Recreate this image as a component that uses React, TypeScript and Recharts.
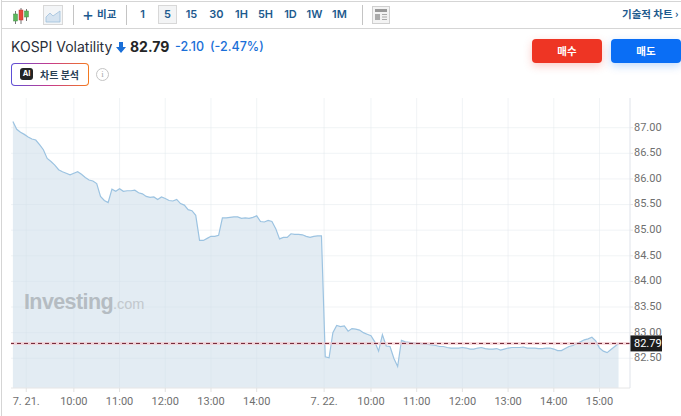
import { Area, AreaChart, CartesianGrid, ReferenceLine, XAxis, YAxis } from "recharts";

// one value per 5 minute bar
const day1Values = [
  87.12, 86.97, 86.91, 86.87, 86.82, 86.78, 86.76, 86.67, 86.57, 86.4, 86.34, 86.27, 86.18, 86.14, 86.11, 86.08,
  86.11, 86.14, 86.09, 86.03, 85.98, 85.96, 85.91, 85.66, 85.58, 85.54, 85.8, 85.76, 85.81, 85.76, 85.77, 85.77,
  85.78, 85.73, 85.71, 85.66, 85.64, 85.65, 85.6, 85.65, 85.62, 85.58, 85.57, 85.6, 85.52, 85.49, 85.4, 85.38,
  85.29, 84.8, 84.8, 84.84, 84.88, 84.88, 84.9, 85.24, 85.24, 85.25, 85.26, 85.26, 85.23, 85.24, 85.23, 85.25,
  85.28, 85.17, 85.16, 85.19, 85.17, 85.03, 84.83, 84.86, 84.86, 84.93, 84.92, 84.92, 84.91, 84.88, 84.86, 84.88,
  84.89, 84.89,
];
const day2Values = [
  82.53, 82.51, 83.0, 83.14, 83.12, 83.13, 83.03, 83.08, 83.07, 83.05, 83.0, 82.97, 82.94, 82.82, 82.64, 82.96,
  82.74, 82.73, 82.5, 82.34, 82.85, 82.82, 82.81, 82.8, 82.79, 82.79, 82.77, 82.77, 82.76, 82.75, 82.73, 82.73,
  82.71, 82.7, 82.7, 82.7, 82.71, 82.7, 82.68, 82.68, 82.7, 82.71, 82.69, 82.68, 82.68, 82.69, 82.66, 82.68,
  82.7, 82.71, 82.71, 82.71, 82.72, 82.7, 82.7, 82.7, 82.69, 82.69, 82.7, 82.7, 82.68, 82.65, 82.65, 82.69,
  82.73, 82.75, 82.79, 82.82, 82.86, 82.88, 82.91, 82.84, 82.7, 82.64, 82.61, 82.67, 82.73, 82.79,
];
const xTicks = [3.5, 16, 28, 40, 52, 64, 81.7, 94, 106, 118, 130, 142, 154];
const xTickLabels = ["7. 21.", "10:00", "11:00", "12:00", "13:00", "14:00", "7. 22.", "10:00", "11:00", "12:00", "13:00", "14:00", "15:00"];
const yTicks = [82.5, 83, 83.5, 84, 84.5, 85, 85.5, 86, 86.5, 87];
const intervals = ["1", "5", "15", "30", "1H", "5H", "1D", "1W", "1M"];
const lastPrice = 82.79;

const chartData = [...day1Values, ...day2Values].map((value, bar) => ({ bar, value }));

const korean = '"Noto Sans CJK KR", Inter, sans-serif';

function CandleIcon() {
  return (
    <svg width="18" height="18" viewBox="0 0 18 18" style={{ position: "absolute", left: 11, top: 5 }}>
      <path d="M3.5 4v13M9 1v16M14.5 2v12" stroke="#777" strokeWidth="1" />
      <rect x="1.5" y="7" width="4" height="7" fill="#5cb85c" stroke="#4a8f4a" strokeWidth="0.5" />
      <rect x="7" y="3" width="4" height="10" fill="#e8483a" stroke="#b33" strokeWidth="0.5" />
      <rect x="12.5" y="4" width="4" height="6" fill="#5cb85c" stroke="#4a8f4a" strokeWidth="0.5" />
    </svg>
  );
}

function Toolbar() {
  return (
    <div style={{ position: "absolute", left: 1, top: 1, width: 680, height: 26, borderTop: "1px solid #d5d5d5", borderBottom: "1px solid #d5d5d5", fontFamily: "Inter, sans-serif", color: "#1d5a8e", fontSize: 11, fontWeight: 600 }}>
      <CandleIcon />
      <div style={{ position: "absolute", left: 42, top: 3, width: 18, height: 18, background: "#f3f5f7", border: "1px solid #d8d8d8" }}>
        <svg width="18" height="18" viewBox="0 0 18 18">
          <path d="M2 11L6 7l3 3 7-5v11H2z" fill="#d5e3f0" stroke="#9fc0dc" strokeWidth="0.8" />
        </svg>
      </div>
      <div style={{ position: "absolute", left: 72, top: 3, width: 1, height: 20, background: "#c4c4c4" }} />
      <div style={{ position: "absolute", left: 81, top: 1, fontSize: 18, fontWeight: 400, lineHeight: "24px" }}>+</div>
      <div style={{ position: "absolute", left: 96, top: 5, fontFamily: korean, lineHeight: "14px", fontSize: 10.5 }}>비교</div>
      <div style={{ position: "absolute", left: 125, top: 3, width: 1, height: 20, background: "#c4c4c4" }} />
      {intervals.map((label, i) => (
        <div
          key={label}
          style={{
            position: "absolute",
            left: [132, 157, 181, 206, 231, 255, 280, 304, 329][i],
            top: 3,
            width: 19,
            height: 19,
            textAlign: "center",
            lineHeight: "19px",
            boxSizing: "border-box",
            ...(label === "5" ? { background: "#f3f4f5", border: "1px solid #d8d8d8", lineHeight: "17px" } : {}),
          }}
        >
          {label}
        </div>
      ))}
      <div style={{ position: "absolute", left: 361, top: 3, width: 1, height: 20, background: "#c4c4c4" }} />
      <svg width="18" height="18" viewBox="0 0 18 18" style={{ position: "absolute", left: 371, top: 4 }}>
        <rect x="0.5" y="0.5" width="17" height="17" fill="#f3f3f3" stroke="#cfcfcf" />
        <rect x="3" y="3" width="12" height="3" fill="#999" />
        <rect x="3" y="8" width="5" height="6" fill="#aaa" />
        <path d="M10 8.5h5M10 11h5M10 13.5h5" stroke="#aaa" />
      </svg>
      <div style={{ position: "absolute", left: 621, top: 5, fontFamily: korean, lineHeight: "14px", fontSize: 10.5, whiteSpace: "nowrap" }}>기술적 차트 ›</div>
    </div>
  );
}

function Header() {
  return (
    <>
      <div style={{ position: "absolute", left: 11, top: 38, fontFamily: "Inter, sans-serif", fontSize: 14, lineHeight: "18px", color: "#2a2e39", whiteSpace: "nowrap" }}>KOSPI Volatility</div>
      <svg width="10" height="11" viewBox="0 0 10 11" style={{ position: "absolute", left: 116, top: 42 }}>
        <path d="M3 0h4v5h3L5 11 0 5h3z" fill="#1a6fd8" />
      </svg>
      <div style={{ position: "absolute", left: 130, top: 37, fontFamily: "Inter, sans-serif", fontSize: 14, fontWeight: 700, lineHeight: "20px", color: "#232526" }}>82.79</div>
      <div style={{ position: "absolute", left: 175, top: 38, fontFamily: "Inter, sans-serif", fontSize: 12.5, fontWeight: 500, lineHeight: "18px", color: "#1a6fd8", whiteSpace: "nowrap" }}>-2.10</div>
      <div style={{ position: "absolute", left: 210, top: 38, fontFamily: "Inter, sans-serif", fontSize: 12.5, fontWeight: 500, lineHeight: "18px", color: "#1a6fd8", whiteSpace: "nowrap" }}>(-2.47%)</div>
      <div style={{ position: "absolute", left: 11, top: 63, width: 78, height: 23, boxSizing: "border-box", borderRadius: 4, padding: 1, background: "linear-gradient(90deg, #5b4fd8, #c63a8c 50%, #f47a1f)" }}>
        <div style={{ width: "100%", height: "100%", background: "#fff", borderRadius: 3, position: "relative" }}>
          <div style={{ position: "absolute", left: 8, top: 4, width: 13, height: 12, borderRadius: 3, background: "#232526", color: "#fff", fontFamily: "Inter, sans-serif", fontSize: 7.5, fontWeight: 700, lineHeight: "12px", textAlign: "center" }}>AI</div>
          <div style={{ position: "absolute", left: 28, top: 3, fontFamily: korean, fontSize: 10, fontWeight: 700, lineHeight: "15px", color: "#2a3f55", whiteSpace: "nowrap" }}>차트 분석</div>
        </div>
      </div>
      <div style={{ position: "absolute", left: 96, top: 68, width: 13, height: 13, boxSizing: "border-box", border: "1px solid #c4c4c4", borderRadius: "50%", fontFamily: "Liberation Serif, serif", fontSize: 9, lineHeight: "11px", textAlign: "center", color: "#aaa" }}>i</div>
      <div style={{ position: "absolute", left: 532, top: 39, width: 70, height: 24, borderRadius: 4, background: "#ee3524", boxShadow: "0 3px 8px rgba(238,53,36,0.25)", color: "#fff", fontFamily: korean, fontSize: 10.5, fontWeight: 700, lineHeight: "24px", textAlign: "center" }}>매수</div>
      <div style={{ position: "absolute", left: 611, top: 39, width: 70, height: 24, borderRadius: 4, background: "#0a6ef5", boxShadow: "0 3px 8px rgba(10,110,245,0.25)", color: "#fff", fontFamily: korean, fontSize: 10.5, fontWeight: 700, lineHeight: "24px", textAlign: "center" }}>매도</div>
    </>
  );
}

function PriceTag({ viewBox }: { viewBox?: { x: number; y: number; width: number } }) {
  if (!viewBox) return null;
  const x = viewBox.x + viewBox.width;
  return (
    <g>
      <rect x={x} y={viewBox.y - 8} width={32} height={16} fill="#1c1c1c" />
      <text x={x + 4} y={viewBox.y + 4} fill="#fff" fontSize={11} fontFamily="Roboto, sans-serif">
        {lastPrice.toFixed(2)}
      </text>
    </g>
  );
}

export default function App() {
  return (
    <div style={{ position: "absolute", left: 0, top: 0, width: 681, height: 416, overflow: "hidden", background: "#fff" }}>
      <div style={{ position: "absolute", left: 1, top: 0, width: 1, height: 416, background: "#d5d5d5" }} />
      <Toolbar />
      <Header />
      <div style={{ position: "absolute", left: 0, top: 0 }}>
        <AreaChart width={681} height={416} data={chartData} margin={{ top: 98, right: 0, bottom: 0, left: 11 }}>
          <CartesianGrid stroke="#e4e9ee" strokeOpacity={0.5} horizontalValues={yTicks} verticalValues={xTicks} />
          <XAxis
            dataKey="bar"
            type="number"
            domain={[-0.5, 162]}
            ticks={xTicks}
            interval={0}
            allowDecimals
            tickFormatter={(v) => xTickLabels[xTicks.indexOf(v)]}
            tick={{ fill: "#6f6f6f", fontSize: 11, fontFamily: "Roboto, sans-serif" }}
            tickLine={{ stroke: "#e2e2e2" }}
            tickSize={4}
            tickMargin={5}
            axisLine={{ stroke: "#e6e6e6" }}
            height={28}
          />
          <YAxis
            orientation="right"
            type="number"
            domain={[81.92, 87.58]}
            ticks={yTicks}
            interval={0}
            allowDataOverflow
            tickFormatter={(v) => v.toFixed(2)}
            tick={{ fill: "#6f6f6f", fontSize: 11, fontFamily: "Roboto, sans-serif", dy: -1 }}
            tickLine={{ stroke: "#e6e6e6" }}
            tickSize={3}
            tickMargin={1}
            axisLine={{ stroke: "#dfe3ea" }}
            width={51}
          />
          <Area
            type="linear"
            dataKey="value"
            stroke="#9cc3e1"
            strokeWidth={1.2}
            fill="#cfdeeb"
            fillOpacity={0.58}
            dot={false}
            activeDot={false}
            isAnimationActive={false}
          />
          <ReferenceLine y={lastPrice} stroke="#f6c4ca" strokeOpacity={0.6} strokeWidth={3} />
          <ReferenceLine y={lastPrice} stroke="#6e2030" strokeWidth={1} strokeDasharray="4 3" label={<PriceTag />} />
        </AreaChart>
      </div>
      <div style={{ position: "absolute", left: 24, top: 288, fontFamily: "Liberation Sans, sans-serif", fontSize: 21.5, fontWeight: 700, letterSpacing: -0.6, lineHeight: "28px", color: "#b5bcc2", whiteSpace: "nowrap" }}>
        Investing<span style={{ fontSize: 14.5, fontWeight: 400, letterSpacing: 0, color: "#c2c8cd" }}>.com</span>
      </div>
    </div>
  );
}
